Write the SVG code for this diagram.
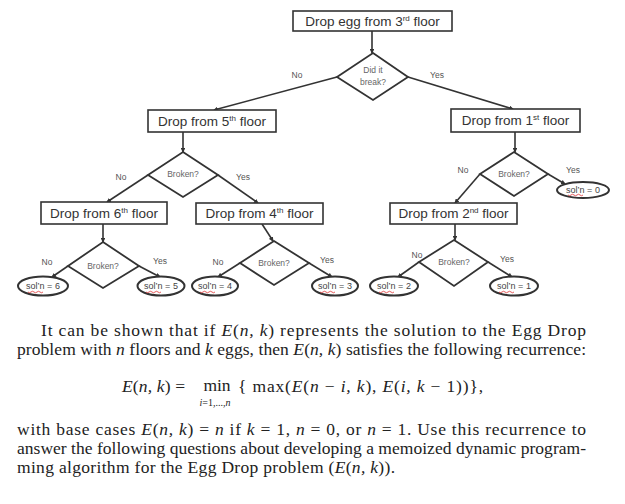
<svg xmlns="http://www.w3.org/2000/svg" width="625" height="504" viewBox="0 0 625 504">
<style>
.box{fill:#fff;stroke:#333;stroke-width:1.6}
.dia{fill:#fff;stroke:#333;stroke-width:1.8}
.ell{fill:#fff;stroke:#333;stroke-width:2}
.bt{font-family:"Liberation Sans",Arial,sans-serif;font-size:13.5px;fill:#333;text-anchor:middle}
.dt{font-family:"Liberation Sans",Arial,sans-serif;font-size:8.5px;fill:#666;text-anchor:middle}
.lb{font-family:"Liberation Sans",Arial,sans-serif;font-size:8.5px;fill:#555;text-anchor:middle}
.et{font-family:"Liberation Sans",Arial,sans-serif;font-size:9px;fill:#444;text-anchor:middle}
.sq{fill:none;stroke:#d33;stroke-width:0.8}
.con{fill:none;stroke:#333;stroke-width:1.6;marker-end:url(#ah)}
.tx{font-family:"Liberation Serif","Times New Roman",serif;font-size:17.5px;fill:#222}
.it{font-style:italic}
</style>
<defs>
<marker id="ah" viewBox="0 0 6 6" refX="5" refY="3" markerWidth="3" markerHeight="3" orient="auto">
<path d="M0,0 L6,3 L0,6 z" fill="#333"/>
</marker>
</defs>

<g id="connectors">
<line class="con" x1="372" y1="31" x2="372" y2="53"/>
<line class="con" x1="337" y1="77" x2="214" y2="110"/>
<line class="con" x1="408" y1="77" x2="513" y2="109"/>
<line class="con" x1="183" y1="132" x2="183" y2="152"/>
<line class="con" x1="148" y1="175" x2="107" y2="202"/>
<line class="con" x1="218" y1="175" x2="258" y2="203"/>
<line class="con" x1="515" y1="132" x2="515" y2="152"/>
<line class="con" x1="480" y1="174" x2="455" y2="203"/>
<line class="con" x1="548" y1="174" x2="565" y2="184"/>
<line class="con" x1="103" y1="224" x2="103" y2="242"/>
<line class="con" x1="68" y1="266" x2="52" y2="277"/>
<line class="con" x1="139" y1="266" x2="160" y2="277"/>
<line class="con" x1="262" y1="224" x2="273" y2="241"/>
<line class="con" x1="240" y1="263" x2="218" y2="277"/>
<line class="con" x1="309" y1="263" x2="332" y2="277"/>
<line class="con" x1="455" y1="224" x2="455" y2="240"/>
<line class="con" x1="419" y1="262" x2="398" y2="277"/>
<line class="con" x1="488" y1="262" x2="512" y2="277"/>
<text class="lb" x="297" y="78">No</text>
<text class="lb" x="437" y="78">Yes</text>
<text class="lb" x="121" y="180">No</text>
<text class="lb" x="243" y="180">Yes</text>
<text class="lb" x="463" y="173">No</text>
<text class="lb" x="573" y="173">Yes</text>
<text class="lb" x="47" y="265">No</text>
<text class="lb" x="160" y="264">Yes</text>
<text class="lb" x="218" y="265">No</text>
<text class="lb" x="327" y="263">Yes</text>
<text class="lb" x="417" y="258">No</text>
<text class="lb" x="507" y="262">Yes</text>
</g>

<g id="root">
<rect class="box" x="293" y="11" width="159" height="20"/>
<text class="bt" x="372.5" y="26">Drop egg from 3<tspan font-size="8" dy="-5">rd</tspan><tspan dy="5"> floor</tspan></text>
</g>
<g id="d0">
<polygon class="dia" points="373,53 408,77 373,100 337,77"/>
<text class="dt" x="373" y="73">Did it</text>
<text class="dt" x="373" y="85">break?</text>
</g>

<g id="f5">
<rect class="box" x="148" y="110" width="128" height="22"/>
<text class="bt" x="212" y="126">Drop from 5<tspan font-size="8" dy="-5">th</tspan><tspan dy="5"> floor</tspan></text>
</g>
<g id="d5">
<polygon class="dia" points="183,152 218,175 183,197 148,175"/>
<text class="dt" x="183" y="177">Broken?</text>
</g>

<g id="f1">
<rect class="box" x="451" y="109" width="129" height="23"/>
<text class="bt" x="515.5" y="125">Drop from 1<tspan font-size="8" dy="-5">st</tspan><tspan dy="5"> floor</tspan></text>
</g>
<g id="d1">
<polygon class="dia" points="514,152 548,174 514,196 480,174"/>
<text class="dt" x="514" y="177">Broken?</text>
</g>
<g id="s0">
<ellipse class="ell" cx="583" cy="190" rx="26" ry="8"/>
<text class="et" x="583" y="193">sol’n = 0</text>
<path class="sq" d="M568,195 q1.5,1.5 3,0 t3,0 t3,0 t3,0 t3,0"/>
</g>

<g id="f6">
<rect class="box" x="41" y="202" width="126" height="22"/>
<text class="bt" x="104" y="218">Drop from 6<tspan font-size="8" dy="-5">th</tspan><tspan dy="5"> floor</tspan></text>
</g>
<g id="d6">
<polygon class="dia" points="103,242 139,266 103,288 68,266"/>
<text class="dt" x="103" y="269">Broken?</text>
</g>

<g id="f4">
<rect class="box" x="196" y="203" width="127" height="21"/>
<text class="bt" x="259.5" y="218">Drop from 4<tspan font-size="8" dy="-5">th</tspan><tspan dy="5"> floor</tspan></text>
</g>
<g id="d4">
<polygon class="dia" points="274,241 309,263 274,285 240,263"/>
<text class="dt" x="274" y="266">Broken?</text>
</g>

<g id="f2">
<rect class="box" x="390" y="203" width="127" height="21"/>
<text class="bt" x="453.5" y="218">Drop from 2<tspan font-size="8" dy="-5">nd</tspan><tspan dy="5"> floor</tspan></text>
</g>
<g id="d2">
<polygon class="dia" points="454,240 488,262 454,286 419,262"/>
<text class="dt" x="454" y="265">Broken?</text>
</g>

<g id="s6">
<ellipse class="ell" cx="43" cy="286" rx="25" ry="9.5"/>
<text class="et" x="43" y="289">sol’n = 6</text>
<path class="sq" d="M28,292 q1.5,1.5 3,0 t3,0 t3,0 t3,0 t3,0"/>
</g>
<g id="s5">
<ellipse class="ell" cx="161" cy="286" rx="23.5" ry="9.5"/>
<text class="et" x="161" y="289">sol’n = 5</text>
<path class="sq" d="M146,292 q1.5,1.5 3,0 t3,0 t3,0 t3,0 t3,0"/>
</g>
<g id="s4">
<ellipse class="ell" cx="215" cy="286" rx="23" ry="9.5"/>
<text class="et" x="215" y="289">sol’n = 4</text>
<path class="sq" d="M200,292 q1.5,1.5 3,0 t3,0 t3,0 t3,0 t3,0"/>
</g>
<g id="s3">
<ellipse class="ell" cx="335" cy="286" rx="23" ry="9.5"/>
<text class="et" x="335" y="289">sol’n = 3</text>
<path class="sq" d="M320,292 q1.5,1.5 3,0 t3,0 t3,0 t3,0 t3,0"/>
</g>
<g id="s2">
<ellipse class="ell" cx="394" cy="286" rx="24" ry="9.5"/>
<text class="et" x="394" y="289">sol’n = 2</text>
<path class="sq" d="M379,292 q1.5,1.5 3,0 t3,0 t3,0 t3,0 t3,0"/>
</g>
<g id="s1">
<ellipse class="ell" cx="514" cy="286" rx="24" ry="9.5"/>
<text class="et" x="514" y="289">sol’n = 1</text>
<path class="sq" d="M499,292 q1.5,1.5 3,0 t3,0 t3,0 t3,0 t3,0"/>
</g>

<g id="paragraph">
<text class="tx" x="41" y="336" textLength="545" lengthAdjust="spacing">It can be shown that if <tspan class="it">E</tspan>(<tspan class="it">n, k</tspan>) represents the solution to the Egg Drop</text>
<text class="tx" x="17" y="355" textLength="569" lengthAdjust="spacing">problem with <tspan class="it">n</tspan> floors and <tspan class="it">k</tspan> eggs, then <tspan class="it">E</tspan>(<tspan class="it">n, k</tspan>) satisfies the following recurrence:</text>
<text class="tx" x="122" y="392" textLength="63" lengthAdjust="spacing"><tspan class="it">E</tspan>(<tspan class="it">n, k</tspan>) =</text>
<text class="tx" x="217" y="391" text-anchor="middle">min</text>
<text class="tx" x="215" y="406" text-anchor="middle" style="font-size:10px"><tspan class="it">i</tspan>=1,...,<tspan class="it">n</tspan></text>
<text class="tx" x="238" y="392" textLength="245" lengthAdjust="spacing">{ max(<tspan class="it">E</tspan>(<tspan class="it">n</tspan> − <tspan class="it">i, k</tspan>), <tspan class="it">E</tspan>(<tspan class="it">i, k</tspan> − 1))},</text>
<text class="tx" x="17" y="435" textLength="569" lengthAdjust="spacing">with base cases <tspan class="it">E</tspan>(<tspan class="it">n, k</tspan>) = <tspan class="it">n</tspan> if <tspan class="it">k</tspan> = 1, <tspan class="it">n</tspan> = 0, or <tspan class="it">n</tspan> = 1. Use this recurrence to</text>
<text class="tx" x="17" y="454" textLength="569" lengthAdjust="spacing">answer the following questions about developing a memoized dynamic program-</text>
<text class="tx" x="17" y="473" textLength="378" lengthAdjust="spacing">ming algorithm for the Egg Drop problem (<tspan class="it">E</tspan>(<tspan class="it">n, k</tspan>)).</text>
</g>
</svg>
